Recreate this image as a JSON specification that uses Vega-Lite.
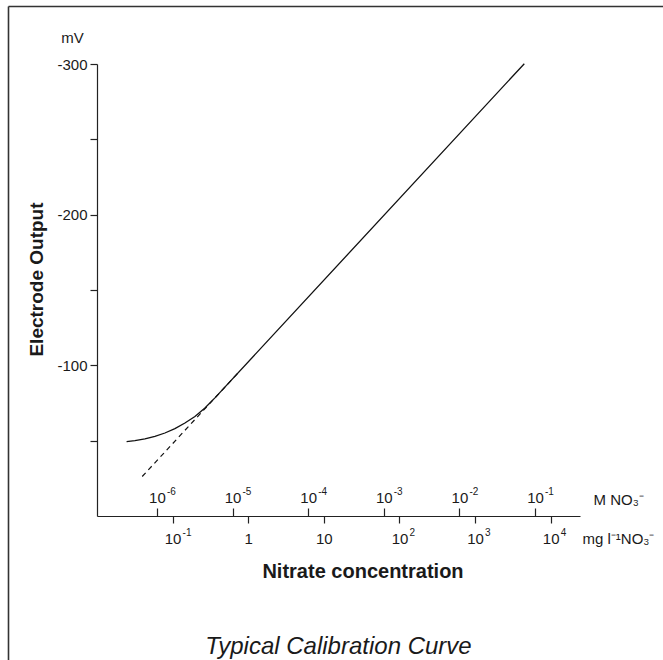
{
  "$schema": "https://vega.github.io/schema/vega-lite/v6.json",
  "width": 655,
  "height": 654,
  "autosize": "none",
  "padding": {"left": 8, "top": 6, "right": 0, "bottom": 0},
  "background": "white",
  "config": {
    "font": "Liberation Sans",
    "view": {"stroke": null},
    "axis": {
      "grid": false,
      "labelFont": "Liberation Sans",
      "titleFont": "Liberation Sans",
      "labelColor": "#1a1a1a",
      "titleColor": "#1a1a1a",
      "domainColor": "#222222",
      "tickColor": "#222222",
      "domainWidth": 1.2,
      "tickWidth": 1.2,
      "labelOverlap": false,
      "labelFlush": false
    }
  },
  "title": {
    "text": "Typical Calibration Curve",
    "orient": "bottom",
    "anchor": "middle",
    "fontSize": 24,
    "fontStyle": "italic",
    "fontWeight": "normal",
    "color": "#1a1a1a",
    "baseline": "alphabetic",
    "offset": -6,
    "dx": 3
  },
  "datasets": {
    "curve": [
      {"mg_per_l": 0.02463, "mV": -49.3},
      {"mg_per_l": 0.03172, "mV": -50.03},
      {"mg_per_l": 0.04301, "mV": -51.16},
      {"mg_per_l": 0.05833, "mV": -52.82},
      {"mg_per_l": 0.07909, "mV": -55.08},
      {"mg_per_l": 0.10725, "mV": -58.0},
      {"mg_per_l": 0.14546, "mV": -61.71},
      {"mg_per_l": 0.19724, "mV": -66.03},
      {"mg_per_l": 0.26742, "mV": -71.67},
      {"mg_per_l": 0.36268, "mV": -78.43},
      {"mg_per_l": 4475, "mV": -300.2}
    ],
    "asymptote": [
      {"mg_per_l": 0.03962, "mV": -26.2},
      {"mg_per_l": 0.7765, "mV": -96.3}
    ],
    "molar_ticks": [
      {"M": 0.000001},
      {"M": 0.00001},
      {"M": 0.0001},
      {"M": 0.001},
      {"M": 0.01},
      {"M": 0.1}
    ]
  },
  "layer": [
    {
      "data": {"name": "curve"},
      "mark": {"type": "line", "color": "#111111", "strokeWidth": 1.3, "clip": false},
      "encoding": {
        "x": {
          "field": "mg_per_l",
          "type": "quantitative",
          "scale": {"type": "log", "domain": [0.01, 24400], "range": [89, 572], "nice": false},
          "axis": {
            "orient": "bottom",
            "offset": -144,
            "values": [0.1, 1, 10, 100, 1000, 10000],
            "tickSize": 7,
            "labelExpr": "round(log(datum.value)/LN10) == 0 ? '1' : '10'",
            "labelFontSize": 15,
            "labelBaseline": "alphabetic",
            "labelPadding": 20,
            "title": "Nitrate concentration",
            "titleFontSize": 20,
            "titleFontWeight": "bold",
            "titleX": 354.5,
            "titleY": 61.5,
            "titleAlign": "center",
            "titleBaseline": "alphabetic"
          }
        },
        "y": {
          "field": "mV",
          "type": "quantitative",
          "scale": {"domain": [-300, 0], "range": [58, 510], "nice": false, "zero": false},
          "axis": {
            "orient": "left",
            "offset": -89,
            "values": [-300, -250, -200, -150, -100, -50],
            "tickSize": 7,
            "labelExpr": "datum.value % 100 == 0 ? '' + datum.value : ''",
            "labelFontSize": 15,
            "labelPadding": 3,
            "labelBaseline": "middle",
            "title": "Electrode Output",
            "titleAngle": 270,
            "titleFontSize": 19,
            "titleFontWeight": "bold",
            "titleX": -55,
            "titleY": 273,
            "titleAlign": "center",
            "titleBaseline": "alphabetic"
          }
        }
      }
    },
    {
      "data": {"name": "asymptote"},
      "mark": {"type": "line", "color": "#111111", "strokeWidth": 1.2, "strokeDash": [5, 4], "clip": false},
      "encoding": {
        "x": {
          "field": "mg_per_l",
          "type": "quantitative",
          "scale": {"type": "log", "domain": [0.01, 24400], "range": [89, 572], "nice": false},
          "axis": {
            "orient": "bottom",
            "offset": -144,
            "domain": false,
            "values": [0.1, 100, 1000, 10000],
            "tickSize": 7,
            "tickOpacity": 0,
            "labelExpr": "'' + round(log(datum.value)/LN10)",
            "labelFontSize": 10,
            "labelAlign": "left",
            "labelOffset": 9.5,
            "labelBaseline": "alphabetic",
            "labelPadding": 12,
            "title": "mg l⁻¹NO₃⁻",
            "titleFontSize": 15,
            "titleFontWeight": "normal",
            "titleX": 574,
            "titleY": 27,
            "titleAlign": "left",
            "titleBaseline": "alphabetic"
          }
        },
        "y": {
          "field": "mV",
          "type": "quantitative",
          "scale": {"domain": [-300, 0], "range": [58, 510], "nice": false, "zero": false},
          "axis": {
            "orient": "left",
            "offset": -89,
            "domain": false,
            "ticks": false,
            "labels": false,
            "title": "mV",
            "titleAngle": 0,
            "titleFontSize": 15,
            "titleFontWeight": "normal",
            "titleX": -25,
            "titleY": 36,
            "titleAlign": "center",
            "titleBaseline": "alphabetic"
          }
        }
      }
    },
    {
      "data": {"name": "molar_ticks"},
      "mark": {"type": "point", "opacity": 0, "size": 0},
      "encoding": {
        "x": {
          "field": "M",
          "type": "quantitative",
          "scale": {"type": "log", "domain": [1.6129e-7, 0.39355], "range": [89, 572], "nice": false},
          "axis": {
            "orient": "bottom",
            "offset": -144,
            "domain": false,
            "values": [0.000001, 0.00001, 0.0001, 0.001, 0.01, 0.1],
            "tickSize": -8,
            "labelExpr": "'10'",
            "labelFontSize": 15,
            "labelBaseline": "alphabetic",
            "labelPadding": -6,
            "title": "M NO₃⁻",
            "titleFontSize": 15,
            "titleFontWeight": "normal",
            "titleX": 585,
            "titleY": -12,
            "titleAlign": "left",
            "titleBaseline": "alphabetic"
          }
        }
      }
    },
    {
      "data": {"name": "molar_ticks"},
      "mark": {"type": "point", "opacity": 0, "size": 0},
      "encoding": {
        "x": {
          "field": "M",
          "type": "quantitative",
          "scale": {"type": "log", "domain": [1.6129e-7, 0.39355], "range": [89, 572], "nice": false},
          "axis": {
            "orient": "bottom",
            "offset": -144,
            "domain": false,
            "values": [0.000001, 0.00001, 0.0001, 0.001, 0.01, 0.1],
            "tickSize": -8,
            "tickOpacity": 0,
            "labelExpr": "'' + round(log(datum.value)/LN10)",
            "labelFontSize": 10,
            "labelAlign": "left",
            "labelOffset": 9.5,
            "labelBaseline": "alphabetic",
            "labelPadding": -14,
            "title": null
          }
        }
      }
    },
    {
      "data": {"name": "molar_ticks"},
      "mark": {"type": "point", "opacity": 0, "size": 0},
      "encoding": {
        "x": {
          "field": "M",
          "type": "quantitative",
          "scale": {"type": "linear"},
          "axis": {"orient": "top", "offset": 0, "domain": true, "domainWidth": 1.6, "domainColor": "#333333", "ticks": false, "labels": false, "title": null}
        },
        "y": {
          "field": "M",
          "type": "quantitative",
          "scale": {"type": "linear"},
          "axis": {"orient": "left", "offset": 0, "domain": true, "domainWidth": 1.6, "domainColor": "#333333", "ticks": false, "labels": false, "title": null}
        }
      }
    }
  ],
  "resolve": {
    "scale": {"x": "independent", "y": "independent"},
    "axis": {"x": "independent", "y": "independent"}
  }
}
